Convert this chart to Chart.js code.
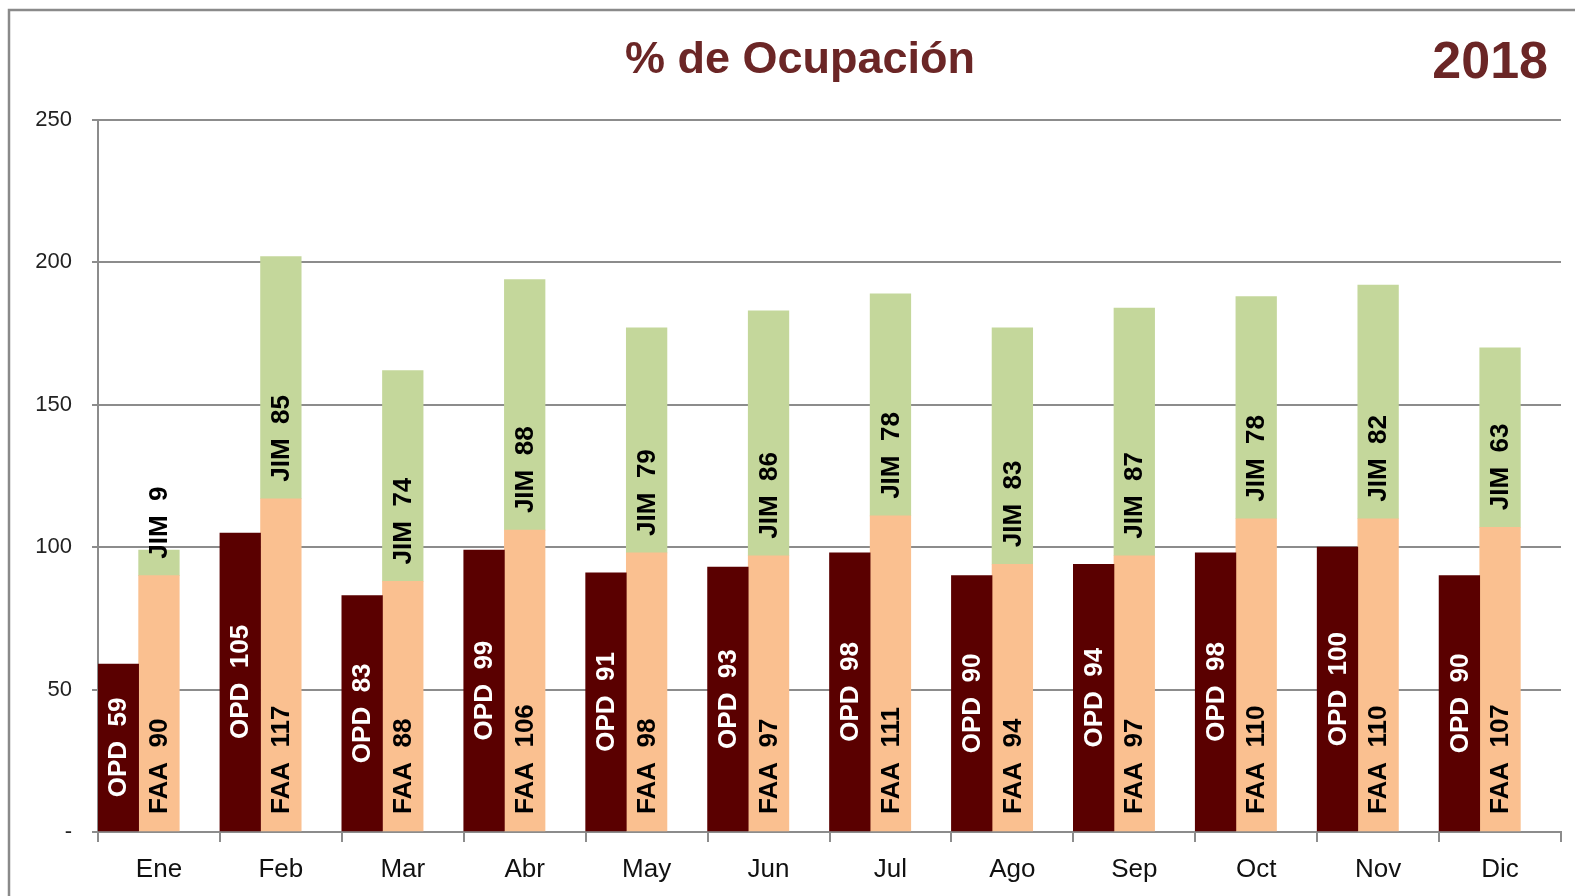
<!DOCTYPE html>
<html>
<head>
<meta charset="utf-8">
<script src="https://cdn.jsdelivr.net/npm/chart.js@4.4.1/dist/chart.umd.min.js"></script>
<style>
  html, body { margin: 0; padding: 0; background: #fff; }
  #wrap { width: 1575px; height: 896px; position: relative; }
</style>
</head>
<body>
<div id="wrap"><canvas id="c" width="1575" height="896"></canvas></div>
<script>
const months = ['Ene','Feb','Mar','Abr','May','Jun','Jul','Ago','Sep','Oct','Nov','Dic'];
const opd = [59,105,83,99,91,93,98,90,94,98,100,90];
const faa = [90,117,88,106,98,97,111,94,97,110,110,107];
const jim = [9,85,74,88,79,86,78,83,87,78,82,63];
const spacer = [0,0,0,0,0,0,0,0,0,0,0,0];
const yTickLabels = {0:'-',50:'50',100:'100',150:'150',200:'200',250:'250'};
const chartTitle = '% de Ocupación';
const chartYear = '2018';

const FONT = '"Liberation Sans", Arial, sans-serif';
const GRID = '#8c8c8c';

const framePlugin = {
  id: 'frame',
  beforeDraw(chart) {
    const ctx = chart.ctx;
    ctx.save();
    ctx.fillStyle = '#ffffff';
    ctx.fillRect(0, 0, chart.width, chart.height);
    ctx.strokeStyle = '#8a8a8a';
    ctx.lineWidth = 2.5;
    ctx.strokeRect(9, 10, 2000, 2000);
    ctx.restore();
  },
  afterDraw(chart) {
    const ctx = chart.ctx;
    ctx.save();
    ctx.fillStyle = '#6b2626';
    ctx.font = 'bold 45px ' + FONT;
    ctx.textAlign = 'center';
    ctx.textBaseline = 'middle';
    ctx.fillText(chartTitle, 800, 61);
    ctx.font = 'bold 52px ' + FONT;
    ctx.textAlign = 'right';
    ctx.fillText(chartYear, 1548, 64);
    ctx.restore();
  }
};

const labelPlugin = {
  id: 'barLabels',
  afterDatasetsDraw(chart) {
    const ctx = chart.ctx;
    ctx.save();
    ctx.font = 'bold 26px ' + FONT;
    ctx.textBaseline = 'middle';
    chart.data.datasets.forEach((ds, di) => {
      if (!ds.showLabels) return;
      const meta = chart.getDatasetMeta(di);
      meta.data.forEach((el, i) => {
        const p = el.getProps(['x','y','base'], true);
        const text = ds.label + '  ' + ds.data[i];
        ctx.save();
        ctx.fillStyle = ds.labelColor;
        if (ds.labelAnchor === 'center') {
          ctx.translate(p.x, (p.y + p.base) / 2);
          ctx.rotate(-Math.PI / 2);
          ctx.textAlign = 'center';
        } else {
          ctx.translate(p.x, p.base - 17);
          ctx.rotate(-Math.PI / 2);
          ctx.textAlign = 'left';
        }
        ctx.fillText(text, 0, 1);
        ctx.restore();
      });
    });
    ctx.restore();
  }
};

const barCommon = { categoryPercentage: 1, barPercentage: 1, borderWidth: 0 };

new Chart(document.getElementById('c'), {
  type: 'bar',
  data: {
    labels: months,
    datasets: [
      Object.assign({ label: 'OPD', data: opd, stack: 'a', backgroundColor: '#5a0000', showLabels: true, labelColor: '#ffffff', labelAnchor: 'center' }, barCommon),
      Object.assign({ label: 'FAA', data: faa, stack: 'b', backgroundColor: '#fac090', showLabels: true, labelColor: '#000000', labelAnchor: 'base' }, barCommon),
      Object.assign({ label: 'JIM', data: jim, stack: 'b', backgroundColor: '#c4d79b', showLabels: true, labelColor: '#000000', labelAnchor: 'base' }, barCommon),
      Object.assign({ label: '', data: spacer, stack: 'c', backgroundColor: 'rgba(0,0,0,0)', showLabels: false }, barCommon)
    ]
  },
  options: {
    responsive: false,
    animation: false,
    devicePixelRatio: 1,
    events: [],
    layout: { padding: { top: 120, right: 14, left: 0, bottom: 0 } },
    plugins: { legend: { display: false }, tooltip: { enabled: false }, title: { display: false } },
    scales: {
      x: {
        afterFit(scale) { scale.height = 64; },
        grid: { display: true, drawOnChartArea: false, drawTicks: true, tickLength: 10, color: GRID, lineWidth: 2, offset: true },
        border: { display: true, color: GRID, width: 2 },
        ticks: { color: '#111', font: { family: FONT, size: 26 }, padding: 12, maxRotation: 0, autoSkip: false }
      },
      y: {
        stacked: true,
        min: 0, max: 250,
        afterFit(scale) { scale.width = 98; },
        grid: { color: GRID, lineWidth: 2, drawTicks: true, tickLength: 6 },
        border: { display: true, color: GRID, width: 2 },
        ticks: {
          stepSize: 50,
          color: '#222',
          font: { family: FONT, size: 22 },
          padding: 20,
          callback: (v) => yTickLabels[v] !== undefined ? yTickLabels[v] : ''
        }
      }
    }
  },
  plugins: [framePlugin, labelPlugin]
});
</script>
</body>
</html>
